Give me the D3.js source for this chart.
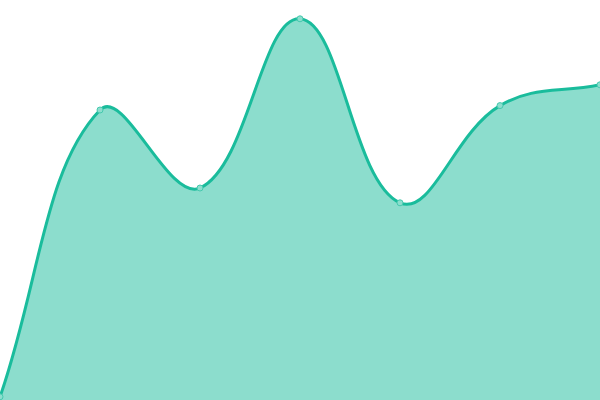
<!DOCTYPE html>
<html>
<head>
<meta charset="utf-8">
<script src="https://cdn.jsdelivr.net/npm/d3@7"></script>
<style>
  html, body { margin: 0; padding: 0; background: #fff; }
  #chart { width: 600px; height: 400px; }
</style>
</head>
<body>
<div id="chart"></div>
<script>
const categories = [0, 1, 2, 3, 4, 5, 6];
const values = [0.8, 72.5, 53, 95.3, 49.3, 73.6, 78.8];

const width = 600;
const height = 400;

// spline with distance-weighted tangents (tension 0.4), control points kept inside the plot
function splineCurve(tension) {
  return context => ({
    areaStart() { this._line = 0; },
    areaEnd() { this._line = NaN; },
    lineStart() { this._pts = []; },
    point(px, py) { this._pts.push([+px, +py]); },
    lineEnd() {
      const p = this._pts;
      const n = p.length;
      if (n) {
        if (this._line) context.lineTo(p[0][0], p[0][1]);
        else context.moveTo(p[0][0], p[0][1]);
      }
      const cps = p.map((cur, i) => {
        const prev = p[i - 1] || cur;
        const next = p[i + 1] || cur;
        const d01 = Math.hypot(cur[0] - prev[0], cur[1] - prev[1]);
        const d12 = Math.hypot(next[0] - cur[0], next[1] - cur[1]);
        let s01 = d01 / (d01 + d12);
        let s12 = d12 / (d01 + d12);
        if (isNaN(s01)) s01 = 0;
        if (isNaN(s12)) s12 = 0;
        const fa = tension * s01;
        const fb = tension * s12;
        const clampX = v => Math.max(0, Math.min(width, v));
        const clampY = v => Math.max(0, Math.min(height, v));
        return {
          inX: clampX(cur[0] - fa * (next[0] - prev[0])),
          inY: clampY(cur[1] - fa * (next[1] - prev[1])),
          outX: clampX(cur[0] + fb * (next[0] - prev[0])),
          outY: clampY(cur[1] + fb * (next[1] - prev[1])),
        };
      });
      for (let i = 1; i < n; i++) {
        context.bezierCurveTo(
          cps[i - 1].outX, cps[i - 1].outY,
          cps[i].inX, cps[i].inY,
          p[i][0], p[i][1],
        );
      }
      if (this._line) context.closePath();
      this._line = 1 - this._line;
    },
  });
}

const x = d3.scaleLinear().domain([0, categories.length - 1]).range([0, width]);
const y = d3.scaleLinear().domain([0, 100]).range([height, 0]);

const data = categories.map((c, i) => ({ c, v: values[i] }));

const svg = d3.select('#chart').append('svg')
  .attr('width', width)
  .attr('height', height);

const area = d3.area()
  .x(d => x(d.c))
  .y0(height)
  .y1(d => y(d.v))
  .curve(splineCurve(0.4));

const line = d3.line()
  .x(d => x(d.c))
  .y(d => y(d.v))
  .curve(splineCurve(0.4));

svg.append('path')
  .datum(data)
  .attr('fill', '#1abc9c')
  .attr('fill-opacity', 0.5)
  .attr('d', area);

svg.append('path')
  .datum(data)
  .attr('fill', 'none')
  .attr('stroke', '#1abc9c')
  .attr('stroke-width', 3)
  .attr('d', line);

svg.selectAll('circle')
  .data(data)
  .enter().append('circle')
  .attr('cx', d => x(d.c))
  .attr('cy', d => y(d.v))
  .attr('r', 3)
  .attr('fill', '#8ddece')
  .attr('stroke', '#45c9ae')
  .attr('stroke-width', 1);
</script>
</body>
</html>
